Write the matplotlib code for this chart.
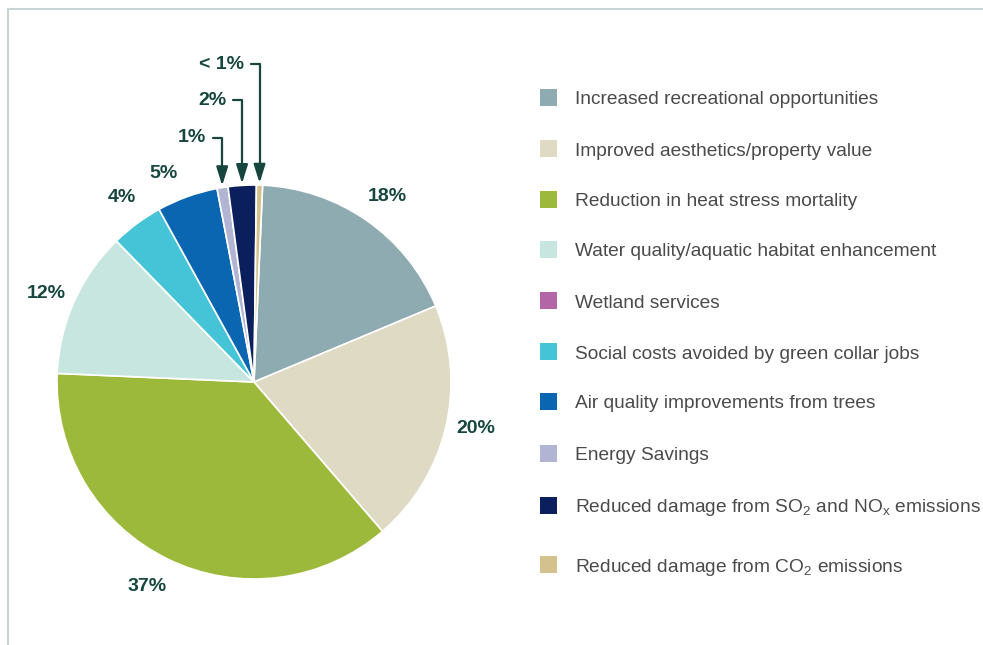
import numpy as np
import matplotlib.pyplot as plt
from matplotlib.patches import Rectangle
from matplotlib.lines import Line2D

categories = [
    "Increased recreational opportunities",
    "Improved aesthetics/property value",
    "Reduction in heat stress mortality",
    "Water quality/aquatic habitat enhancement",
    "Wetland services",
    "Social costs avoided by green collar jobs",
    "Air quality improvements from trees",
    "Energy Savings",
    r"Reduced damage from SO$_\mathregular{2}$ and NO$_\mathregular{x}$ emissions",
    r"Reduced damage from CO$_\mathregular{2}$ emissions",
]
shares = [18, 20, 37, 12, 0, 4.3, 5, 0.9, 2.3, 0.5]
colors = ["#8FABB2", "#DFDAC3", "#9DB93B", "#C6E6DF", "#B266A6",
          "#45C4D7", "#0A66B0", "#B1B5D3", "#0B1F5C", "#D4C28E"]

# labels placed next to the slice: index -> (label, text position)
big_labels = {
    0: ("18%", (0.675, 0.942)),
    1: ("20%", (1.127, -0.234)),
    2: ("37%", (-0.543, -1.036)),
    3: ("12%", (-1.054, 0.447)),
    5: ("4%", (-0.670, 0.939)),
    6: ("5%", (-0.457, 1.056)),
}
# small slices labelled with arrows
small_labels = {
    7: ("1%", (-0.244, 1.239)),
    8: ("2%", (-0.142, 1.431)),
    9: ("< 1%", (-0.051, 1.614)),
}

label_color = "#17463F"
plt.rcParams['font.family'] = ['Liberation Sans', 'DejaVu Sans']

fig = plt.figure(figsize=(9.83, 6.45), dpi=100)
ax = fig.add_axes([57 / 983, 66 / 645, 394 / 983, 394 / 645])

wedges, _ = ax.pie(shares, colors=colors, startangle=87.5, counterclock=False,
                   wedgeprops=dict(edgecolor="white", linewidth=1.2))

for i, (txt, pos) in big_labels.items():
    ax.text(pos[0], pos[1], txt, ha="center", va="center",
            fontsize=14, fontweight="bold", color=label_color)

for i, (txt, pos) in small_labels.items():
    w = wedges[i]
    mid = np.deg2rad((w.theta1 + w.theta2) / 2)
    tip = (1.01 * np.cos(mid), 1.01 * np.sin(mid))
    ax.annotate(txt, xy=tip, xytext=pos, ha="right", va="center",
                fontsize=14, fontweight="bold", color=label_color,
                annotation_clip=False,
                arrowprops=dict(arrowstyle="-|>,head_length=0.8,head_width=0.25",
                                connectionstyle="angle,angleA=0,angleB=90,rad=0",
                                color=label_color, lw=1.6, relpos=(1, 0.5),
                                shrinkA=3, shrinkB=0))

ax.set_xlim(-1, 1)
ax.set_ylim(-1, 1)
ax.set_aspect("equal")
ax.axis("off")

# legend drawn by hand (uneven spacing at the last row)
row_y = [98, 149, 200, 250, 301, 352, 402, 454, 506, 565]
for name, col, y in zip(categories, colors, row_y):
    fig.add_artist(Rectangle((540 / 983, 1 - (y + 8) / 645), 17 / 983, 17 / 645,
                             facecolor=col, edgecolor="none", transform=fig.transFigure))
    fig.text(575 / 983, 1 - (y + 6.5) / 645, name, fontsize=13.8, color="#4A4A4A",
             ha="left", va="baseline")

# frame lines
border = "#C9D4D7"
fig.add_artist(Line2D([8 / 983, 1], [1 - 9 / 645, 1 - 9 / 645], color=border, lw=1.5))
fig.add_artist(Line2D([8 / 983, 8 / 983], [0, 1 - 9 / 645], color=border, lw=1.5))

fig.savefig("out.png", dpi=100)
